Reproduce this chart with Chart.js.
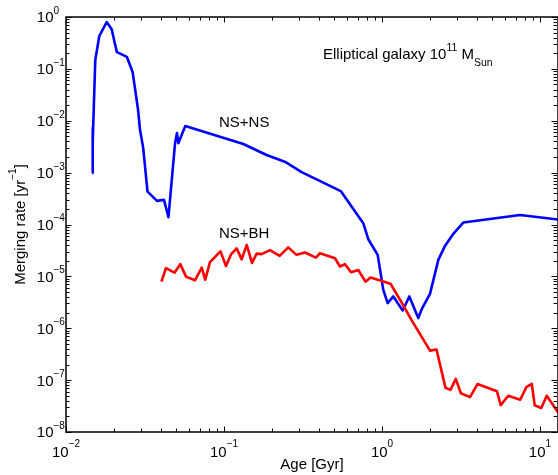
<!DOCTYPE html>
<html>
<head>
<meta charset="utf-8">
<script src="https://cdn.jsdelivr.net/npm/chart.js@4"></script>
<style>
  html, body { margin: 0; padding: 0; background: #fff; }
  canvas { display: block; }
</style>
</head>
<body>
<canvas id="Chart" width="558" height="475"></canvas>
<script>
// NS+NS merging rate (blue)
const nsnsAge = [0.01462, 0.0147, 0.01482, 0.01532, 0.01625, 0.0181, 0.01946, 0.02033, 0.0210, 0.0243,
    0.0264, 0.0286, 0.0294, 0.0308, 0.0328, 0.0377, 0.0417, 0.0445, 0.049, 0.0504,
    0.0514, 0.0569, 0.1325, 0.186, 0.247, 0.31, 0.425, 0.548, 0.761, 0.819,
    0.939, 1.019, 1.086, 1.179, 1.352, 1.489, 1.697, 1.784, 2.013, 2.272,
    2.504, 2.827, 3.27, 7.47, 13];
const nsnsRate = [9.9e-4, 7.3e-3, 3.9e-3, 0.148, 0.43, 0.80, 0.58, 0.32, 0.21, 0.17,
    0.087, 0.016, 6.7e-3, 3.0e-3, 4.3e-4, 2.85e-4, 2.98e-4, 1.38e-4, 3.7e-3, 5.8e-3,
    3.7e-3, 7.9e-3, 3.57e-3, 2.19e-3, 1.58e-3, 1.02e-3, 6.4e-4, 4.4e-4, 1.06e-4, 5.2e-5,
    2.6e-5, 5.5e-6, 3.05e-6, 4.1e-6, 2.2e-6, 4.1e-6, 1.57e-6, 2.33e-6, 4.6e-6, 2.08e-5,
    3.87e-5, 6.6e-5, 1.09e-4, 1.53e-4, 1.25e-4];

// NS+BH merging rate (red)
const nsbhAge = [0.0402, 0.0429, 0.0486, 0.0529, 0.0575, 0.0655, 0.0723, 0.0761, 0.0815, 0.095,
    0.103, 0.1107, 0.1203, 0.1294, 0.1392, 0.1504, 0.161, 0.173, 0.1955, 0.225,
    0.255, 0.2876, 0.3257, 0.382, 0.405, 0.504, 0.542, 0.583, 0.637, 0.708,
    0.786, 0.846, 0.964, 1.132, 1.333, 1.542, 2.013, 2.213, 2.523, 2.713,
    2.932, 3.153, 3.606, 4.02, 5.34, 5.64, 6.3, 7.5, 8.19, 8.87,
    9.26, 10.19, 11.03, 13];
const nsbhRate = [7.9e-6, 1.44e-5, 1.18e-5, 1.72e-5, 9.9e-6, 8.4e-6, 1.48e-5, 8.6e-6, 1.88e-5, 3.03e-5,
    1.59e-5, 2.65e-5, 3.46e-5, 2.13e-5, 4.05e-5, 1.82e-5, 2.75e-5, 2.68e-5, 3.2e-5, 2.48e-5,
    3.62e-5, 2.6e-5, 2.88e-5, 2.3e-5, 2.8e-5, 2.24e-5, 1.55e-5, 1.72e-5, 1.2e-5, 1.33e-5,
    7.9e-6, 9.5e-6, 8.4e-6, 7.2e-6, 3.13e-6, 1.42e-6, 3.7e-7, 3.9e-7, 7.1e-8, 6.5e-8,
    1.06e-7, 5.6e-8, 4.7e-8, 8.4e-8, 6.1e-8, 3.3e-8, 5.0e-8, 4.2e-8, 7.3e-8, 8.5e-8,
    3.27e-8, 2.9e-8, 5.0e-8, 2.4e-8];

// tick labels are 10^exp
const xTickExps = [-2, -1, 0, 1];
const yTickExps = [0, -1, -2, -3, -4, -5, -6, -7, -8];

const FONT = "'Liberation Sans', Arial, sans-serif";

const toPoints = (xs, ys) => xs.map((v, i) => ({ x: v, y: ys[i] }));
const minus = (n) => String(n).replace('-', '\u2212');

// draw a run of text pieces: [text, size, baseline shift]
function drawRuns(ctx, runs, x, y) {
    let cx = x;
    runs.forEach(([t, size, dy]) => {
        ctx.font = size + 'px ' + FONT;
        ctx.fillText(t, cx, y + dy);
        cx += ctx.measureText(t).width;
    });
}
function runsWidth(ctx, runs) {
    let w = 0;
    runs.forEach(([t, size]) => {
        ctx.font = size + 'px ' + FONT;
        w += ctx.measureText(t).width;
    });
    return w;
}

const decor = {
    id: 'decor',
    afterDraw(chart) {
        const { ctx, chartArea: a, scales: { x, y } } = chart;
        ctx.save();
        ctx.strokeStyle = '#000';
        ctx.fillStyle = '#000';
        ctx.textAlign = 'left';
        ctx.textBaseline = 'alphabetic';

        // frame
        ctx.lineWidth = 1.5;
        ctx.strokeRect(a.left, a.top, a.right - a.left, a.bottom - a.top);

        // inward log ticks on all four sides
        ctx.lineWidth = 1;
        ctx.beginPath();
        for (let e = -2; e <= 1; e++) {
            for (let m = 1; m <= 9; m++) {
                const v = m * Math.pow(10, e);
                if (v < x.min || v > x.max) continue;
                const px = Math.round(x.getPixelForValue(v)) + 0.5;
                const len = m === 1 ? 5.5 : 3.5;
                ctx.moveTo(px, a.bottom); ctx.lineTo(px, a.bottom - len);
                ctx.moveTo(px, a.top); ctx.lineTo(px, a.top + len);
            }
        }
        for (let e = -8; e <= 0; e++) {
            for (let m = 1; m <= 9; m++) {
                const v = m * Math.pow(10, e);
                if (v < y.min || v > y.max) continue;
                const py = Math.round(y.getPixelForValue(v)) + 0.5;
                const len = m === 1 ? 5.5 : 3.5;
                ctx.moveTo(a.left, py); ctx.lineTo(a.left + len, py);
                ctx.moveTo(557, py); ctx.lineTo(557 - len, py);
            }
        }
        ctx.stroke();

        // x tick labels
        xTickExps.forEach(e => {
            const runs = [['10', 15, 0], [minus(e), 10, -9.5]];
            const w = runsWidth(ctx, runs);
            drawRuns(ctx, runs, x.getPixelForValue(Math.pow(10, e)) - w / 2, 456.5);
        });

        // y tick labels
        yTickExps.forEach(e => {
            const py = y.getPixelForValue(Math.pow(10, e));
            ctx.font = '15px ' + FONT;
            const w10 = ctx.measureText('10').width;
            drawRuns(ctx, [['10', 15, 0], [minus(e), 10, -8.5]], 53.5 - w10, py + 5.4);
        });

        // axis titles
        ctx.font = '15px ' + FONT;
        const xt = 'Age [Gyr]';
        ctx.fillText(xt, (a.left + a.right) / 2 - ctx.measureText(xt).width / 2, 468.5);

        const yRuns = [['Merging rate [yr', 15, 0], ['\u22121', 10, -9], [']', 15, 0]];
        ctx.save();
        ctx.translate(25, (a.top + a.bottom) / 2);
        ctx.rotate(-Math.PI / 2);
        drawRuns(ctx, yRuns, -runsWidth(ctx, yRuns) / 2, 0);
        ctx.restore();

        // annotations
        drawRuns(ctx, [['Elliptical galaxy 10', 15, 0], ['11', 10.5, -8], [' M', 15, 0], ['Sun', 10.5, 7]], 323, 59.3);
        drawRuns(ctx, [['NS+NS', 15, 0]], 219, 126.7);
        drawRuns(ctx, [['NS+BH', 15, 0]], 219, 238.3);

        ctx.restore();
    }
};

const config = {
    type: 'line',
    data: {
        datasets: [{
            label: 'NS+NS',
            data: toPoints(nsnsAge, nsnsRate),
            borderColor: 'rgb(0,0,255)',
            borderWidth: 2.6,
            pointRadius: 0,
            tension: 0,
            borderJoinStyle: 'round',
            order: 2,
        }, {
            label: 'NS+BH',
            data: toPoints(nsbhAge, nsbhRate),
            borderColor: 'rgb(255,0,0)',
            borderWidth: 2.6,
            pointRadius: 0,
            tension: 0,
            borderJoinStyle: 'round',
            order: 1,
        }],
    },
    options: {
        responsive: false,
        animation: false,
        layout: { padding: { top: 17, right: 0, left: 0, bottom: 0 } },
        plugins: {
            legend: { display: false },
            tooltip: { enabled: false },
        },
        scales: {
            x: {
                type: 'logarithmic',
                min: 0.01,
                max: 13,
                ticks: { display: false },
                grid: { display: false },
                border: { display: false },
                afterFit: (s) => { s.height = 43; },
            },
            y: {
                type: 'logarithmic',
                min: 1e-8,
                max: 1,
                ticks: { display: false },
                grid: { display: false },
                border: { display: false },
                afterFit: (s) => { s.width = 66; },
            },
        },
    },
    plugins: [decor],
};

const ctx = document.getElementById('Chart').getContext('2d');
const myChart = new Chart(ctx, config);
</script>
</body>
</html>
